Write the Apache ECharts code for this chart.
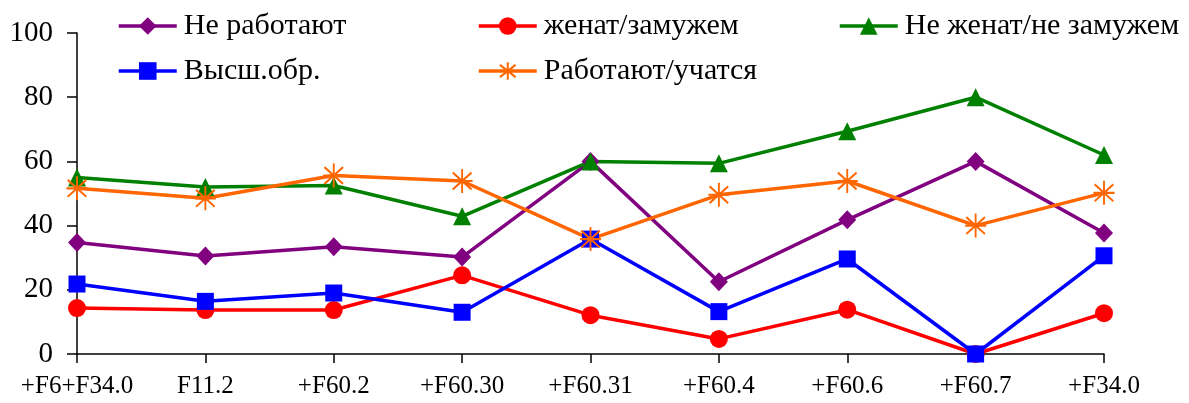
<!DOCTYPE html>
<html>
<head>
<meta charset="utf-8">
<script src="https://cdn.jsdelivr.net/npm/echarts@6/dist/echarts.min.js"></script>
<style>
  html, body { margin: 0; padding: 0; background: #fff; }
  #chart { width: 1189px; height: 403px; }
</style>
</head>
<body>
<div id="chart"></div>
<script>
// Diagnosis groups along the x axis
const categories = ['+F6+F34.0', 'F11.2', '+F60.2', '+F60.30', '+F60.31', '+F60.4', '+F60.6', '+F60.7', '+F34.0'];

// Share of patients per group, %
const notWorking   = [34.7, 30.5, 33.4, 30.2, 60.0, 22.5, 41.8, 60.0, 37.7];
const married      = [14.3, 13.7, 13.7, 24.5, 12.1, 4.7, 13.8, 0, 12.7];
const notMarried   = [55.0, 52.0, 52.5, 42.9, 60.0, 59.4, 69.4, 80.0, 62.0];
const higherEdu    = [21.8, 16.4, 19.0, 13.0, 35.8, 13.2, 29.6, 0, 30.6];
const workingStudy = [51.6, 48.5, 55.6, 53.9, 35.8, 49.6, 53.9, 40.0, 50.2];

const yTicks = [0, 20, 40, 60, 80, 100];

const FONT = '"Liberation Serif", "Times New Roman", serif';
const asterisk = 'path://M0,-10 L0,10 M-8,-7 L8,7 M-8,7 L8,-7 M-9,0 L9,0';

function lineSeries(name, data, color, symbol, size, extra) {
  return Object.assign({
    name: name,
    type: 'line',
    data: data,
    symbol: symbol,
    symbolSize: size,
    showSymbol: true,
    lineStyle: { color: color, width: 3.5 },
    itemStyle: { color: color },
    emphasis: { disabled: true },
    animation: false
  }, extra || {});
}

const legendBase = {
  orient: 'vertical',
  top: 10,
  padding: 0,
  itemWidth: 58,
  itemHeight: 22,
  itemGap: 13,
  selectedMode: false,
  lineStyle: { width: 3.5 },
  textStyle: { fontFamily: FONT, fontSize: 30, color: '#000', lineHeight: 32, padding: [0, 0, 0, 2] }
};

const chart = echarts.init(document.getElementById('chart'), null, { renderer: 'canvas' });
chart.setOption({
  backgroundColor: '#fff',
  animation: false,
  legend: [
    Object.assign({}, legendBase, { left: 117, data: ['Не работают', 'Высш.обр.'] }),
    Object.assign({}, legendBase, { left: 477, data: ['женат/замужем', 'Работают/учатся'] }),
    Object.assign({}, legendBase, { left: 838, data: ['Не женат/не замужем'] })
  ],
  grid: { left: 77, right: 85, top: 33, bottom: 49, containLabel: false },
  xAxis: {
    type: 'category',
    data: categories,
    boundaryGap: false,
    axisLine: { lineStyle: { color: '#000', width: 1.5 } },
    axisTick: { show: true, length: 9, lineStyle: { color: '#000', width: 1.5 } },
    axisLabel: { fontFamily: FONT, fontSize: 25, color: '#000', margin: 20, interval: 0 },
    splitLine: { show: false }
  },
  yAxis: {
    type: 'value',
    min: yTicks[0],
    max: yTicks[yTicks.length - 1],
    interval: 20,
    axisLine: { show: true, lineStyle: { color: '#000', width: 1.5 } },
    axisTick: { show: true, length: 10, lineStyle: { color: '#000', width: 1.5 } },
    axisLabel: { fontFamily: FONT, fontSize: 29, color: '#000', margin: 24 },
    splitLine: { show: false }
  },
  series: [
    lineSeries('Не работают', notWorking, '#800080', 'diamond', [18, 19]),
    lineSeries('женат/замужем', married, '#FF0000', 'circle', 18),
    lineSeries('Не женат/не замужем', notMarried, '#008000', 'triangle', 18),
    lineSeries('Высш.обр.', higherEdu, '#0000FF', 'rect', 17),
    lineSeries('Работают/учатся', workingStudy, '#FF6600', asterisk, [21, 24], {
      itemStyle: { color: 'rgba(0,0,0,0)', borderColor: '#FF6600', borderWidth: 2 }
    })
  ]
});
</script>
</body>
</html>
